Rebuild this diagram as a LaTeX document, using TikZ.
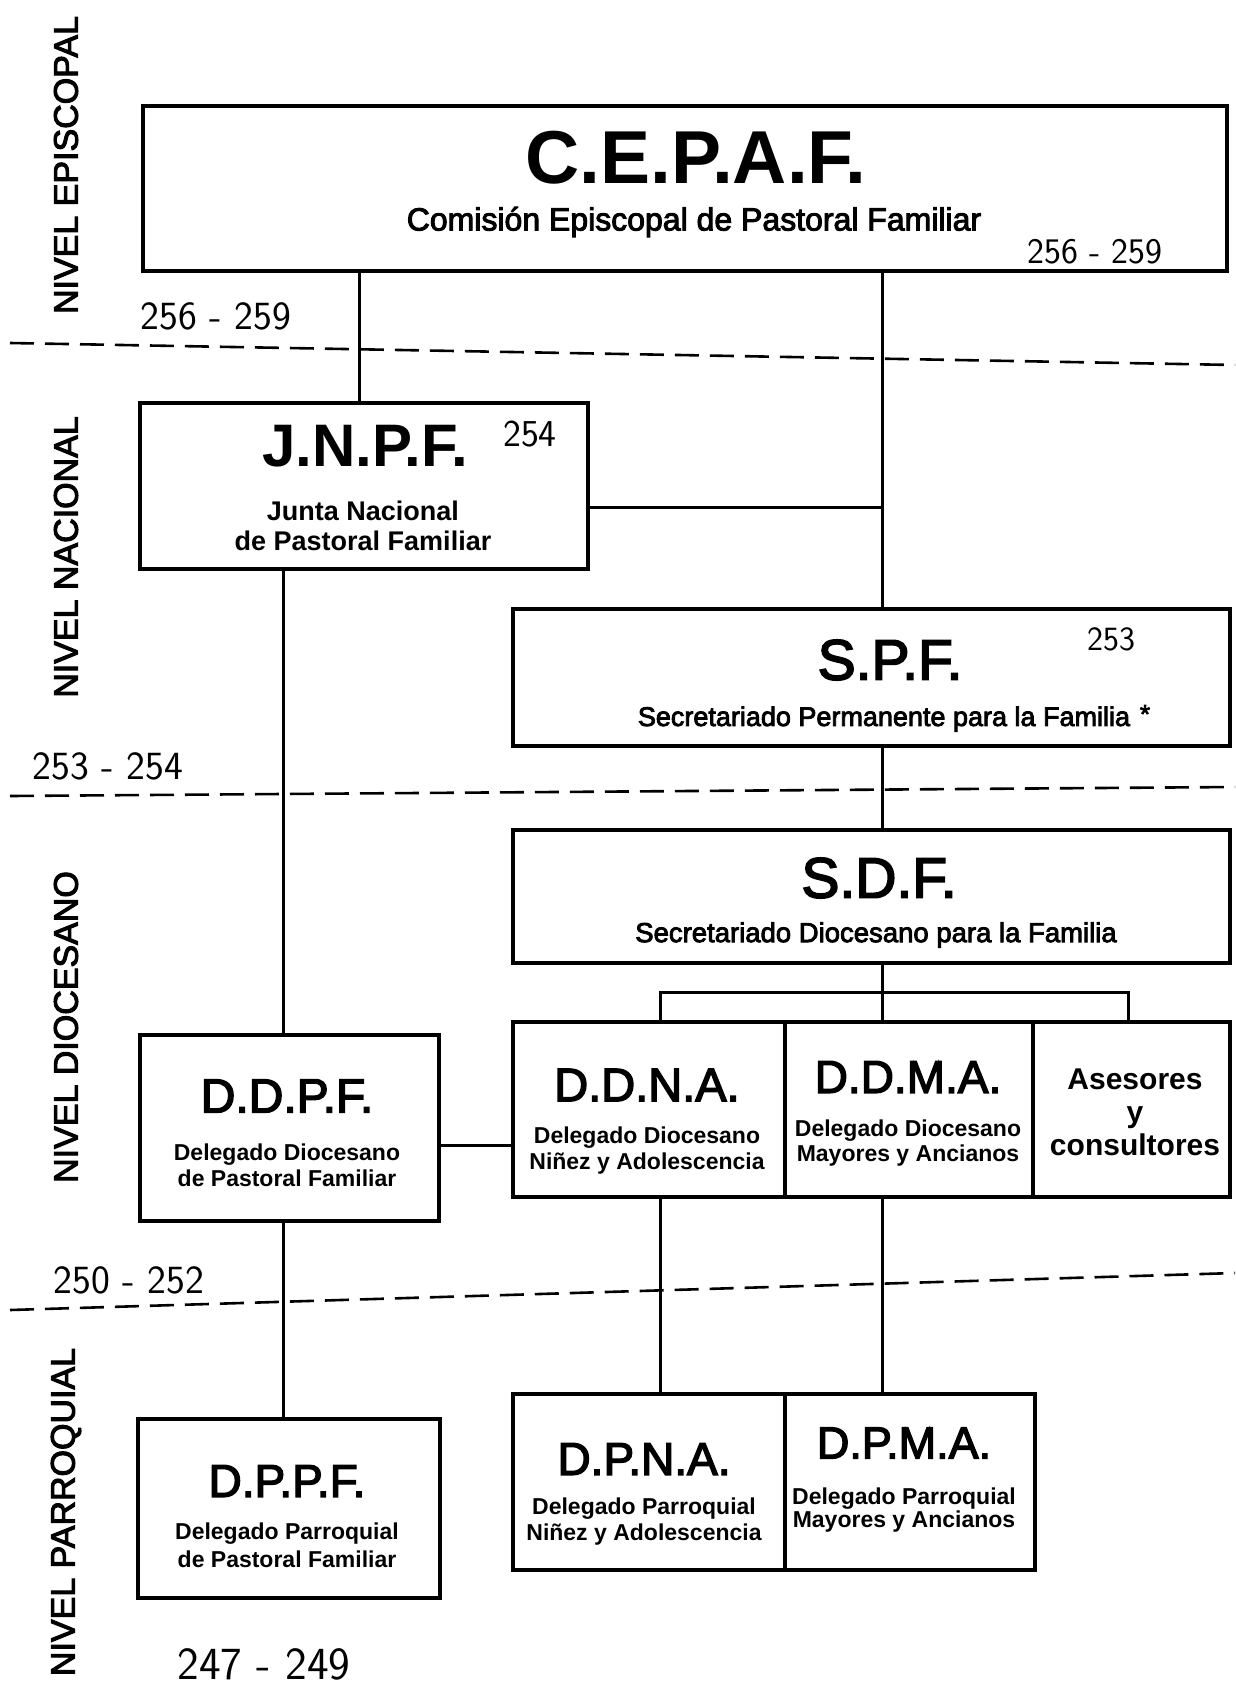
\documentclass[tikz,border=0pt]{standalone}
\usepackage{fontspec}
\setmainfont{Liberation Sans}
\newfontfamily\medf{Liberation Sans}[FakeBold=3]
\begin{document}
\begin{tikzpicture}[x=1pt,y=-1pt,
  box/.style={draw, line width=3.5pt, inner sep=0pt},
  conn/.style={line width=3pt},
  sep/.style={line width=2.6pt, dash pattern=on 24pt off 11pt},
  ttlb/.style={inner sep=0pt, font=\bfseries\fontsize{#1}{#1}\selectfont},
  ttl/.style={inner sep=0pt, font=\medf\fontsize{#1}{#1}\selectfont},
  sub/.style 2 args={inner sep=0pt, align=center, font=\bfseries\fontsize{#1}{#2}\selectfont},
  hand/.style={inner sep=0pt, font=\sffamily\fontsize{#1}{#1}\selectfont},
  side/.style={inner sep=0pt, rotate=90, font=\medf\fontsize{34}{34}\selectfont}]
\useasboundingbox (0,0) rectangle (1235,1691);
\fill[white] (0,0) rectangle (1235,1691);

% side labels
\node[side] (lv1) at (66,165) {NIVEL EPISCOPAL};
\node[side] (lv2) at (66,557) {NIVEL NACIONAL};
\node[side] (lv3) at (66,1027) {NIVEL DIOCESANO};
\node[side] (lv4) at (66,1512) {NIVEL PARROQUIAL};

% separators
\coordinate (s1a) at (10,343); \coordinate (s1b) at (1235,365);
\coordinate (s2a) at (10,796); \coordinate (s2b) at (1235,787);
\coordinate (s3a) at (10,1310); \coordinate (s3b) at (1235,1273);
\draw[sep] (s1a) -- (s1b);
\draw[sep] (s2a) -- (s2b);
\draw[sep] (s3a) -- (s3b);

% boxes
\node[box, minimum width=1084pt, minimum height=165pt] (cepaf) at (685,188.5) {};
\node[box, minimum width=448pt, minimum height=166pt] (jnpf) at (364,486) {};
\node[box, minimum width=717pt, minimum height=137pt] (spf) at (871.5,677.5) {};
\node[box, minimum width=717pt, minimum height=133pt] (sdf) at (871.5,896.5) {};
\node[box, minimum width=272pt, minimum height=175pt] (ddna) at (649,1109.5) {};
\node[box, minimum width=248pt, minimum height=175pt] (ddma) at (909,1109.5) {};
\node[box, minimum width=197pt, minimum height=175pt] (ases) at (1131.5,1109.5) {};
\node[box, minimum width=299pt, minimum height=186pt] (ddpf) at (289.5,1128) {};
\node[box, minimum width=302pt, minimum height=179pt] (dppf) at (289,1508.5) {};
\node[box, minimum width=272pt, minimum height=176pt] (dpna) at (649,1482) {};
\node[box, minimum width=250pt, minimum height=176pt] (dpma) at (910,1482) {};

% connector guide coordinates
\coordinate (xa) at (359,0);
\coordinate (xb) at (882,0);
\coordinate (xc) at (283,0);
\coordinate (xd) at (660,0);
\coordinate (jj) at (882,507);
\coordinate (b1) at (660,992);
\coordinate (b2) at (882,992);
\coordinate (b3) at (1128,992);
\coordinate (hh) at (0,1145);

% connectors
\draw[conn] (cepaf.south -| xa) -- (jnpf.north -| xa);
\draw[conn] (cepaf.south -| xb) -- (jj) -- (spf.north -| xb);
\draw[conn] (jnpf.east |- jj) -- (jj);
\draw[conn] (spf.south -| xb) -- (sdf.north -| xb);
\draw[conn] (sdf.south -| xb) -- (b2) -- (ddma.north -| xb);
\draw[conn] (ddna.north -| b1) -- (b1) -- (b3) -- (ases.north -| b3);
\draw[conn] (jnpf.south -| xc) -- (ddpf.north -| xc);
\draw[conn] (ddpf.east |- hh) -- (ddna.west |- hh);
\draw[conn] (ddpf.south -| xc) -- (dppf.north -| xc);
\draw[conn] (ddna.south -| xd) -- (dpna.north -| xd);
\draw[conn] (ddma.south -| xb) -- (dpma.north -| xb);

% texts
\node[ttlb=75] (t1) at (696,158) {C.E.P.A.F.};
\node[ttl=32] (t1s) at (694,222) {Comisión Episcopal de Pastoral Familiar};
\node[ttlb=60] (t2) at (365,446) {J.N.P.F.};
\node[sub={27}{30}] (t2s) at (363,526) {Junta Nacional\\de Pastoral Familiar};
\node[ttl=57] (t3) at (890,660) {S.P.F.};
\node[ttl=27] (t3s) at (884,719) {Secretariado Permanente para la Familia};
\node[ttl=26] (t3a) at (1145,714) {*};
\node[ttl=57] (t4) at (879,878) {S.D.F.};
\node[ttl=27.5] (t4s) at (876,935) {Secretariado Diocesano para la Familia};
\node[ttl=47] (t5) at (647,1085) {D.D.N.A.};
\node[sub={23}{26}] (t5s) at (647,1151) {Delegado Diocesano\\Niñez y Adolescencia};
\node[ttl=46] (t6) at (908,1077) {D.D.M.A.};
\node[sub={23}{25}] (t6s) at (908,1143) {Delegado Diocesano\\Mayores y Ancianos};
\node[sub={30}{33}] (t7) at (1135,1112) {Asesores\\y\\consultores};
\node[ttl=48] (t8) at (287,1096) {D.D.P.F.};
\node[sub={23}{26}] (t8s) at (287,1165) {Delegado Diocesano\\de Pastoral Familiar};
\node[ttl=46] (t9) at (287,1481) {D.P.P.F.};
\node[sub={23}{28}] (t9s) at (287,1545) {Delegado Parroquial\\de Pastoral Familiar};
\node[ttl=46] (t10) at (644,1459) {D.P.N.A.};
\node[sub={23}{26}] (t10s) at (644,1522) {Delegado Parroquial\\Niñez y Adolescencia};
\node[ttl=45] (t11) at (904,1443) {D.P.M.A.};
\node[sub={23}{23}] (t11s) at (904,1510) {Delegado Parroquial\\Mayores y Ancianos};

% handwritten page references
\node[hand=40] (h1) at (216,316) {256 - 259};
\node[hand=36] (h2) at (1095,252) {256 - 259};
\node[hand=38] (h3) at (530,434) {254};
\node[hand=34] (h4) at (1111,639) {253};
\node[hand=40] (h5) at (108,766) {253 - 254};
\node[hand=40] (h6) at (129,1280) {250 - 252};
\node[hand=46] (h7) at (264,1664) {247 - 249};
\end{tikzpicture}
\end{document}
